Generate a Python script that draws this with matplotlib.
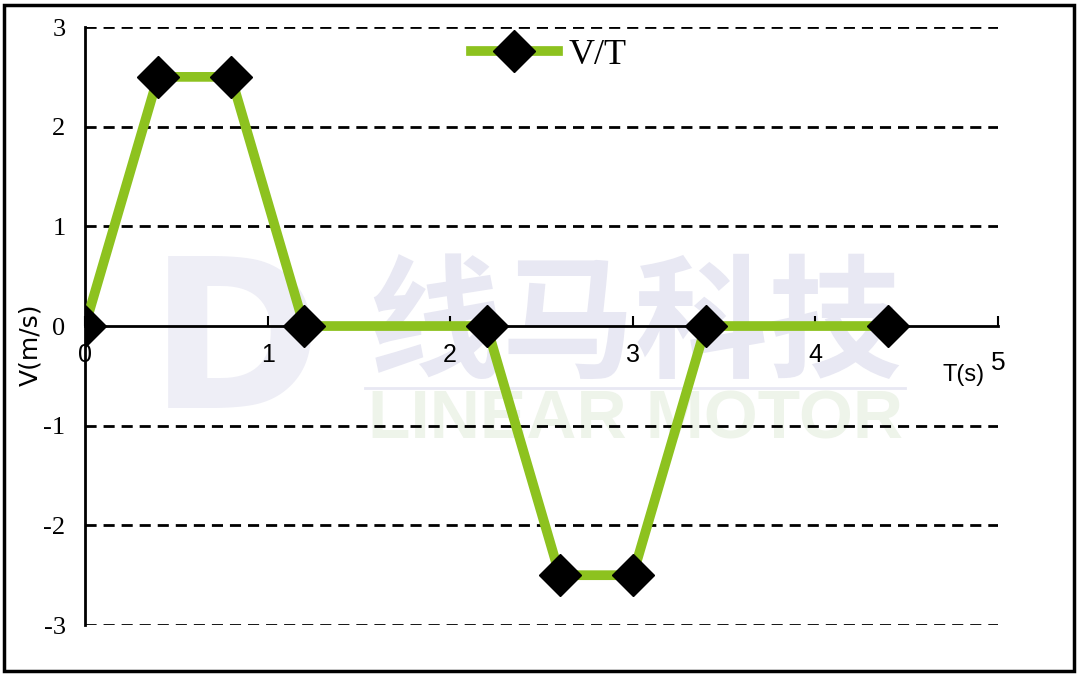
import matplotlib
matplotlib.use("Agg")
import matplotlib.pyplot as plt
from matplotlib.lines import Line2D
from matplotlib.patches import Rectangle

# data
t = [0, 0.4, 0.8, 1.2, 2.2, 2.6, 3.0, 3.4, 4.4]
v = [0, 2.5, 2.5, 0, 0, -2.5, -2.5, 0, 0]
x_ticks = [0, 1, 2, 3, 4, 5]
y_ticks = [-3, -2, -1, 0, 1, 2, 3]

fig = plt.figure(figsize=(10.8, 6.76), dpi=100)
fig.patches.append(Rectangle((0.004, 0.008), 0.99, 0.984, transform=fig.transFigure,
                             fill=False, edgecolor="black", linewidth=2.5))

ax = fig.add_axes([0.0787, 0.0754, 0.8453, 0.8846])
ax.set_xlim(0, 5)
ax.set_ylim(-3, 3)

# watermark (behind everything in the axes)
ft = fig.transFigure
ax.text(0.218, 0.482, "D", fontsize=150, fontweight="bold", color="#EEEEF6",
        ha="center", va="center", family="DejaVu Sans", transform=ft, zorder=0)
ax.text(0.588, 0.515, "线马科技", fontsize=96, fontweight="bold", color="#E8E8F3",
        ha="center", va="center", family=["Noto Sans CJK SC", "DejaVu Sans"],
        transform=ft, zorder=0)
ax.text(0.588, 0.378, "LINEAR MOTOR", fontsize=50, fontweight="bold", color="#EEF4EA",
        ha="center", va="center", family="Liberation Sans", transform=ft, zorder=0)
ax.add_line(Line2D([0.338, 0.838], [0.426, 0.426], transform=ft,
                   color="#E8E8F3", linewidth=2, zorder=0))

for y in y_ticks:
    if y != 0:
        ax.axhline(y, color="black", linestyle=(0, (4, 2.5)), linewidth=2, zorder=1)

ax.plot(t, v, color="#8DC21F", linewidth=7, marker="D", markersize=21,
        markerfacecolor="black", markeredgecolor="black", label="V/T", zorder=3)

for s in ["top", "right"]:
    ax.spines[s].set_visible(False)
ax.spines["bottom"].set_position(("data", 0))
ax.spines["bottom"].set_linewidth(2)
ax.spines["left"].set_linewidth(2)
ax.patch.set_alpha(0)

ax.set_xticks(x_ticks)
ax.set_xticklabels(["0", "1", "2", "3", "4", ""], fontsize=18, family="Liberation Sans")
ax.tick_params(axis="x", direction="in", length=7, width=1.5, pad=12)
ax.set_yticks(y_ticks)
ax.set_yticklabels([str(y) for y in y_ticks], fontsize=19, family="Liberation Serif")
ax.tick_params(axis="y", length=0, pad=14)

ax.text(5.0, -0.37, "5", fontsize=19, ha="center", va="center", family="Liberation Sans")
ax.text(4.81, -0.49, "T(s)", fontsize=17, ha="center", va="center", family="Liberation Sans")
fig.text(0.028, 0.49, "V(m/s)", fontsize=18, rotation=90, ha="center", va="center")

ax.legend(loc="upper center", bbox_to_anchor=(0.508, 1.035), frameon=False,
          prop={"family": "Liberation Serif", "size": 26}, handlelength=2.4,
          handletextpad=0.3)

fig.savefig("out.png", dpi=100)
